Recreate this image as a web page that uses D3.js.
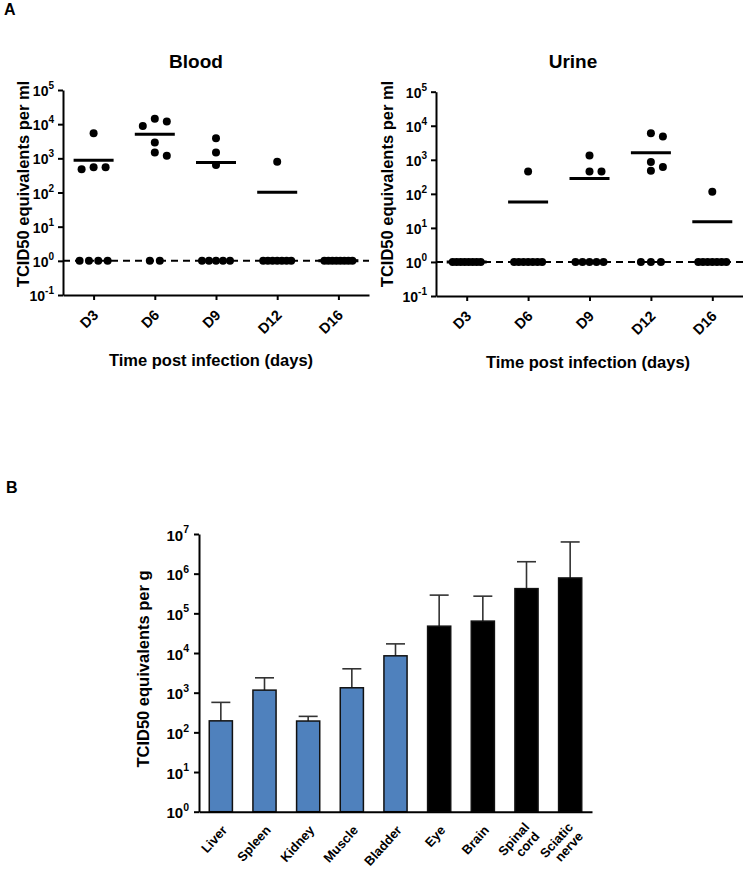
<!DOCTYPE html>
<html>
<head>
<meta charset="utf-8">
<script src="https://cdn.jsdelivr.net/npm/d3@7"></script>
<style>
  body { margin: 0; background: #fff; }
  text { font-family: "Liberation Sans", Arial, sans-serif; font-weight: bold; fill: #000; }
</style>
</head>
<body>
<svg id="chart" width="743" height="870"></svg>
<script>
// ---------------- DATA ----------------
const days = ["D3", "D6", "D9", "D12", "D16"];
const detectionLimit = 1;

// Blood: one array per day (8 animals each)
const bloodD3 = [5400, 550, 480, 550, 1, 1, 1, 1];
const bloodD6 = [14300, 12000, 8900, 2900, 1200, 1480, 1, 1];
const bloodD9 = [3900, 1470, 640, 1, 1, 1, 1, 1];
const bloodD12 = [800, 1, 1, 1, 1, 1, 1, 1];
const bloodD16 = [1, 1, 1, 1, 1, 1, 1, 1];

// Urine
const urineD3 = [1, 1, 1, 1, 1, 1, 1, 1];
const urineD6 = [454, 1, 1, 1, 1, 1, 1, 1];
const urineD9 = [1340, 454, 454, 1, 1, 1, 1, 1];
const urineD12 = [6060, 4800, 855, 475, 610, 1, 1, 1];
const urineD16 = [115, 1, 1, 1, 1, 1, 1, 1];

const scatterTicks = [0.1, 1, 10, 100, 1000, 10000, 100000];

// Tissues
const tissues = ["Liver", "Spleen", "Kidney", "Muscle", "Bladder", "Eye", "Brain", "Spinal cord", "Sciatic nerve"];
const tissueMeans = [195, 1160, 193, 1330, 8500, 47500, 63700, 420000, 780000];
const tissueUpper = [570, 2370, 253, 4000, 17000, 288000, 271000, 2000000, 6300000];
const tissueGroup = ["peripheral", "peripheral", "peripheral", "peripheral", "peripheral",
                     "nervous", "nervous", "nervous", "nervous"];
const barTicks = [1, 10, 100, 1000, 10000, 100000, 1000000, 10000000];

// ---------------- DRAW ----------------
const svg = d3.select("#chart");
const groupColor = d3.scaleOrdinal().domain(["peripheral", "nervous"]).range(["#4f81bd", "#000000"]);

function supLabels(sel, fs, supfs) {
  sel.each(function (d) {
    const t = d3.select(this);
    const e = Math.round(Math.log10(d));
    t.text(null).attr("font-size", fs);
    t.append("tspan").text("10");
    t.append("tspan").attr("font-size", supfs).attr("dy", "-0.7em").text(e);
  });
}

function styleAxis(g) {
  g.select(".domain").attr("stroke", "#000").attr("stroke-width", 2);
  g.selectAll(".tick line").attr("stroke", "#000").attr("stroke-width", 2);
}

function scatterPanel(cfg) {
  const x = d3.scalePoint().domain(days).range([cfg.x0, cfg.x1]).padding(0.5);
  const y = d3.scaleLog().domain([0.1, 1e5]).range([cfg.yb, cfg.yt]);
  const g = svg.append("g");

  // dashed detection limit line
  g.append("line")
    .attr("x1", cfg.x0).attr("x2", cfg.x1)
    .attr("y1", y(detectionLimit)).attr("y2", y(detectionLimit))
    .attr("stroke", "#000").attr("stroke-width", 2)
    .attr("stroke-dasharray", "7,5");

  // y axis
  const ya = g.append("g").attr("transform", `translate(${cfg.x0},0)`)
    .call(d3.axisLeft(y).tickValues(scatterTicks).tickSize(5).tickSizeOuter(0));
  styleAxis(ya);
  ya.selectAll(".tick text").attr("x", -9).attr("dy", "0.4em").call(supLabels, 14, 10);

  // x axis
  const xa = g.append("g").attr("transform", `translate(0,${cfg.yb})`)
    .call(d3.axisBottom(x).tickSize(5).tickSizeOuter(0));
  styleAxis(xa);
  xa.selectAll(".tick text")
    .attr("x", null).attr("y", null).attr("dy", null)
    .attr("font-size", 14.5).attr("text-anchor", "end")
    .attr("transform", "translate(5,21) rotate(-45)");

  // means
  days.forEach((d, i) => {
    const m = d3.mean(cfg.values[i]);
    g.append("line")
      .attr("x1", x(d) - 20).attr("x2", x(d) + 20)
      .attr("y1", y(m)).attr("y2", y(m))
      .attr("stroke", "#000").attr("stroke-width", 3);
  });

  // dots
  const r = 4;
  days.forEach((d, i) => {
    const vals = cfg.values[i];
    const pos = vals.filter(v => v > detectionLimit).sort((a, b) => b - a);
    const placed = [];
    pos.forEach(v => {
      const py = y(v);
      const cands = [0, 12, -12, 24, -24];
      let off = cands.find(o => placed.every(p => Math.hypot(p.dx - o, p.py - py) >= 8.5));
      if (off === undefined) off = 0;
      placed.push({ dx: off, py });
    });
    const n0 = vals.filter(v => v <= detectionLimit).length;
    const s = n0 > 1 ? Math.min(10, 28 / (n0 - 1)) : 0;
    for (let k = 0; k < n0; k++) {
      placed.push({ dx: (k - (n0 - 1) / 2) * s, py: y(detectionLimit) });
    }
    g.selectAll(null).data(placed).enter().append("circle")
      .attr("cx", p => x(d) + p.dx).attr("cy", p => p.py).attr("r", r)
      .attr("fill", "#000");
  });

  // titles
  g.append("text").attr("x", cfg.titleX).attr("y", 68).attr("text-anchor", "middle")
    .attr("font-size", 19).text(cfg.title);
  g.append("text").attr("text-anchor", "middle").attr("font-size", 16.5)
    .attr("transform", `translate(${cfg.ylabX},184) rotate(-90)`)
    .text("TCID50 equivalents per ml");
  g.append("text").attr("x", cfg.xlabX).attr("y", cfg.xlabY).attr("text-anchor", "middle")
    .attr("font-size", 16.5).text("Time post infection (days)");
}

scatterPanel({
  x0: 63, x1: 369, yb: 295, yt: 90,
  values: [bloodD3, bloodD6, bloodD9, bloodD12, bloodD16],
  title: "Blood", titleX: 196, ylabX: 29, xlabX: 211, xlabY: 366
});
scatterPanel({
  x0: 436, x1: 743, yb: 296, yt: 91.7,
  values: [urineD3, urineD6, urineD9, urineD12, urineD16],
  title: "Urine", titleX: 573, ylabX: 393, xlabX: 588, xlabY: 368
});

// Panel letters
svg.append("text").attr("x", 4).attr("y", 15).attr("font-size", 16).text("A");
svg.append("text").attr("x", 6).attr("y", 493).attr("font-size", 16).text("B");

// ---------------- BAR PANEL ----------------
(function () {
  const x0 = 199, x1 = 592, yb = 811.7, yt = 534;
  const x = d3.scaleBand().domain(tissues).range([x0, x1]).paddingInner(0.47).paddingOuter(0.235);
  const y = d3.scaleLog().domain([1, 1e7]).range([yb, yt]);
  const g = svg.append("g");

  // error bars (upper only)
  const capW = 19;
  tissues.forEach((t, i) => {
    const cx = x(t) + x.bandwidth() / 2;
    g.append("line").attr("x1", cx).attr("x2", cx)
      .attr("y1", y(tissueMeans[i])).attr("y2", y(tissueUpper[i]))
      .attr("stroke", "#333").attr("stroke-width", 1.6);
    g.append("line").attr("x1", cx - capW / 2).attr("x2", cx + capW / 2)
      .attr("y1", y(tissueUpper[i])).attr("y2", y(tissueUpper[i]))
      .attr("stroke", "#333").attr("stroke-width", 1.6);
  });

  // bars
  g.selectAll("rect.bar").data(tissues).enter().append("rect")
    .attr("class", "bar")
    .attr("x", t => x(t))
    .attr("width", x.bandwidth())
    .attr("y", (t, i) => y(tissueMeans[i]))
    .attr("height", (t, i) => yb - y(tissueMeans[i]))
    .attr("fill", (t, i) => groupColor(tissueGroup[i]))
    .attr("stroke", "#111").attr("stroke-width", 1.5);

  // y axis
  const ya = g.append("g").attr("transform", `translate(${x0},0)`)
    .call(d3.axisLeft(y).tickValues(barTicks).tickSize(5).tickSizeOuter(0));
  styleAxis(ya);
  ya.selectAll(".tick text").attr("x", -10).attr("dy", "0.4em").call(supLabels, 15, 10.5);

  // x axis
  const xa = g.append("g").attr("transform", `translate(0,${yb})`)
    .call(d3.axisBottom(x).tickSize(0).tickSizeOuter(0));
  styleAxis(xa);
  xa.selectAll(".tick text").each(function (d) {
    const t = d3.select(this);
    t.text(null).attr("x", null).attr("y", null).attr("dy", null)
      .attr("font-size", 13).attr("text-anchor", "end")
      .attr("transform", "translate(7,19) rotate(-48)");
    const parts = d.split(" ");
    if (parts.length === 1) {
      t.append("tspan").text(d);
    } else {
      t.append("tspan").attr("x", 0).attr("dy", "-0.35em").text(parts[0]);
      t.append("tspan").attr("x", 0).attr("dy", "1.05em").text(parts[1]);
    }
  });

  g.append("text").attr("text-anchor", "middle").attr("font-size", 16.5)
    .attr("transform", `translate(149,669) rotate(-90)`)
    .text("TCID50 equivalents per g");
})();
</script>
</body>
</html>
